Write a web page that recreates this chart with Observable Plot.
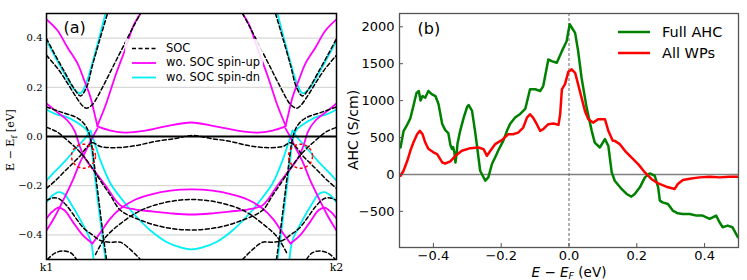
<!DOCTYPE html>
<html><head><meta charset="utf-8">
<script src="https://cdn.jsdelivr.net/npm/d3@7"></script>
<script src="https://cdn.jsdelivr.net/npm/@observablehq/plot@0.6"></script>
<style>
body{margin:0;background:#fff;}
#wrap{position:relative;width:747px;height:280px;overflow:hidden;font-family:"DejaVu Sans",sans-serif;background:#fff;}
#pa,#pb{position:absolute;top:0;}
#pa{left:0px;}
#pb{left:350px;}
.lbl{position:absolute;white-space:nowrap;line-height:1;}
</style></head><body>
<div id="wrap">
  <div id="pa"></div>
  <div id="pb"></div>
  <div class="lbl" id="ylabA" style="left:12px;top:140px;transform:translate(-50%,-50%) rotate(-90deg);font-family:'DejaVu Serif',serif;font-size:11px;">E − E<sub style="font-size:8px">f</sub> [eV]</div>
  <div class="lbl" id="legA" style="left:125px;top:39px;width:138px;height:47px;background:rgba(255,255,255,0.85);font-size:11.5px;">
    <svg width="30" height="47" style="position:absolute;left:6px;top:0">
      <line x1="1" x2="25" y1="9.5" y2="9.5" stroke="black" stroke-width="1.6" stroke-dasharray="4,2.5"/>
      <line x1="1" x2="25" y1="24" y2="24" stroke="#ff00ff" stroke-width="1.8"/>
      <line x1="1" x2="25" y1="38.5" y2="38.5" stroke="#00f0f8" stroke-width="1.8"/>
    </svg>
    <div class="lbl" style="left:41px;top:3.5px">SOC</div>
    <div class="lbl" style="left:41px;top:18px">wo. SOC spin-up</div>
    <div class="lbl" style="left:41px;top:32.5px">wo. SOC spin-dn</div>
  </div>
  <div class="lbl" style="left:353px;top:130px;transform:translate(-50%,-50%) rotate(-90deg);font-size:14px;">AHC (S/cm)</div>
  <div class="lbl" style="left:569px;top:273px;transform:translate(-50%,-50%);font-size:13.5px;"><i>E</i> − <i>E</i><sub style="font-size:9.5px;font-style:italic;vertical-align:-2px">F</sub> (eV)</div>
  <div class="lbl" style="left:617px;top:24px;font-size:14.5px;">
    <svg width="34" height="36" style="position:absolute;left:0;top:0">
      <line x1="1" x2="33" y1="8" y2="8" stroke="green" stroke-width="2.5"/>
      <line x1="1" x2="33" y1="29" y2="29" stroke="red" stroke-width="2.5"/>
    </svg>
    <div class="lbl" style="left:45px;top:1px">Full AHC</div>
    <div class="lbl" style="left:45px;top:22px">All WPs</div>
  </div>
</div>
<script>
// ---------------- Panel (a): band structure, k-path index 0 (k1) .. 290 (k2), energy in eV
const kTicks = [0, 290];
const kLabels = ["k1", "k2"];
const eTicks = [-0.4, -0.2, 0, 0.2, 0.4];
const eGrid = [-0.4, -0.2, 0.2, 0.4];
const weylPoints = [[37, -0.08], [254, -0.08]];

// spin-down bands without SOC (cyan)
const dnBands = [
  [[0,0.39],[9,0.321],[19,0.248],[27,0.195],[34,0.176],[40,0.22],[46,0.301],[52,0.39],[59,0.5]],
  [[231,0.5],[238,0.39],[244,0.301],[250,0.22],[256,0.176],[263,0.195],[271,0.248],[281,0.321],[290,0.39]],
  [[0,0.11],[10,0.09],[21,0.078],[32,0.053],[38,0.035],[41,0.02],[44,-0.02],[47,-0.12],[51,-0.25],[55,-0.38],[59,-0.5]],
  [[231,-0.5],[235,-0.38],[239,-0.25],[243,-0.12],[246,-0.02],[249,0.02],[252,0.035],[258,0.053],[269,0.078],[280,0.09],[290,0.11]],
  [[0,-0.179],[9,-0.14],[19,-0.098],[27,-0.06],[34,-0.028],[40,0.0],[44,0.024]],
  [[246,0.024],[250,0.0],[256,-0.028],[263,-0.06],[271,-0.098],[281,-0.14],[290,-0.179]],
  [[44,0.024],[49,-0.037],[54,-0.098],[64,-0.191],[74,-0.248],[87,-0.313],[104,-0.382],[121,-0.431],[134,-0.451],[145,-0.459],[156,-0.451],[169,-0.431],[186,-0.382],[203,-0.313],[216,-0.248],[226,-0.191],[236,-0.098],[241,-0.037],[246,0.024]],
  [[0,-0.267],[6,-0.24],[12,-0.226],[18,-0.235],[24,-0.27],[34,-0.34],[44,-0.423],[47,-0.5]],
  [[243,-0.5],[246,-0.423],[256,-0.34],[266,-0.27],[272,-0.235],[278,-0.226],[284,-0.24],[290,-0.267]]
];

// spin-up bands without SOC (magenta)
const upBands = [
  [[0,0.476],[11,0.431],[21,0.362],[31,0.297],[37,0.236],[44,0.159],[48,0.093],[51,0.041]],
  [[51,0.041],[64,0.024],[79,0.016],[99,0.024],[119,0.041],[145,0.057],[169,0.041],[191,0.024],[211,0.016],[226,0.024],[239,0.041]],
  [[239,0.041],[242,0.093],[246,0.159],[253,0.236],[259,0.297],[269,0.362],[279,0.431],[290,0.476]],
  [[51,0.045],[59,0.126],[69,0.248],[79,0.358],[87,0.451],[94,0.5]],
  [[196,0.5],[203,0.451],[211,0.358],[221,0.248],[231,0.126],[239,0.045]],
  [[0,-0.382],[9,-0.321],[19,-0.24],[27,-0.171],[33,-0.11],[37,-0.077],[41,-0.045],[46,-0.004],[51,0.033]],
  [[239,0.033],[244,-0.004],[249,-0.045],[253,-0.077],[257,-0.11],[263,-0.171],[271,-0.24],[281,-0.321],[290,-0.382]],
  [[0,0.134],[11,0.098],[21,0.065],[28,0.024],[33,-0.037],[37,-0.077],[42,-0.11],[49,-0.146],[59,-0.199],[74,-0.28],[89,-0.297],[107,-0.305],[126,-0.313],[145,-0.317],[164,-0.313],[183,-0.305],[201,-0.297],[216,-0.28],[231,-0.199],[241,-0.146],[248,-0.11],[253,-0.077],[257,-0.037],[262,0.024],[269,0.065],[279,0.098],[290,0.134]],
  [[46,-0.435],[54,-0.39],[64,-0.333],[74,-0.293],[89,-0.256],[104,-0.236],[124,-0.22],[145,-0.215],[166,-0.22],[186,-0.236],[201,-0.256],[216,-0.293],[226,-0.333],[236,-0.39],[244,-0.435]],
  [[0,-0.333],[6,-0.305],[12,-0.289],[18,-0.3],[26,-0.345],[36,-0.4],[46,-0.435]],
  [[244,-0.435],[254,-0.4],[264,-0.345],[272,-0.3],[278,-0.289],[284,-0.305],[290,-0.333]]
];

// bands with SOC (black dashed)
const socBands = [
  [[0,0.398],[9,0.329],[19,0.256],[27,0.199],[34,0.165],[40,0.2],[46,0.29],[53,0.39],[61,0.5]],
  [[229,0.5],[237,0.39],[244,0.29],[250,0.2],[256,0.165],[263,0.199],[271,0.256],[281,0.329],[290,0.398]],
  [[0,0.33],[12,0.272],[22,0.21],[30,0.158],[36,0.125],[40,0.115],[46,0.13],[56,0.2],[66,0.28],[76,0.36],[86,0.44],[94,0.5]],
  [[196,0.5],[204,0.44],[214,0.36],[224,0.28],[234,0.2],[244,0.13],[250,0.115],[254,0.125],[260,0.158],[268,0.21],[278,0.272],[290,0.33]],
  [[0,0.12],[14,0.1],[31,0.075],[38,0.05],[42,0.02],[45,-0.03],[48,-0.12],[52,-0.25],[56,-0.38],[60,-0.5]],
  [[230,-0.5],[234,-0.38],[238,-0.25],[242,-0.12],[245,-0.03],[248,0.02],[252,0.05],[259,0.075],[276,0.1],[290,0.12]],
  [[0,0.037],[10,0.02],[21,-0.016],[29,-0.045],[37,-0.08],[46,-0.13],[54,-0.18],[64,-0.24],[74,-0.3],[94,-0.34],[119,-0.37],[145,-0.38],[171,-0.37],[196,-0.34],[216,-0.3],[226,-0.24],[236,-0.18],[244,-0.13],[253,-0.08],[261,-0.045],[269,-0.016],[280,0.02],[290,0.037]],
  [[0,-0.211],[9,-0.179],[19,-0.138],[27,-0.106],[34,-0.077],[40,-0.045],[46,-0.025],[54,-0.041],[71,-0.045],[89,-0.037],[109,-0.02],[129,-0.008],[146,0.004],[164,-0.008],[184,-0.02],[202,-0.037],[219,-0.045],[236,-0.041],[244,-0.025],[250,-0.045],[256,-0.077],[263,-0.106],[271,-0.138],[281,-0.179],[290,-0.211]],
  [[49,-0.48],[59,-0.41],[74,-0.354],[94,-0.301],[119,-0.268],[146,-0.256],[172,-0.268],[197,-0.301],[216,-0.354],[231,-0.41],[241,-0.48]],
  [[0,-0.26],[6,-0.25],[12,-0.252],[20,-0.28],[29,-0.33],[37,-0.372],[46,-0.4],[54,-0.423],[64,-0.43],[74,-0.43],[84,-0.46],[94,-0.5]],
  [[196,-0.5],[206,-0.46],[216,-0.43],[226,-0.43],[236,-0.423],[244,-0.4],[253,-0.372],[261,-0.33],[270,-0.28],[278,-0.252],[284,-0.25],[290,-0.26]],
  [[1,-0.5],[8,-0.475],[17,-0.465],[25,-0.475],[30,-0.5]],
  [[260,-0.5],[265,-0.475],[273,-0.465],[282,-0.475],[289,-0.5]]
];

// ---------------- Panel (b): AHC vs E - E_F
const xTicksB = [-0.4, -0.2, 0, 0.2, 0.4];
const yTicksB = [-500, 0, 500, 1000, 1500, 2000];
const fullAHC = [[-0.497,365],[-0.488,588],[-0.48,650],[-0.468,760],[-0.459,927],[-0.45,1100],[-0.443,1130],[-0.438,1000],[-0.432,1062],[-0.424,1040],[-0.415,1130],[-0.404,1085],[-0.394,1062],[-0.385,954],[-0.374,684],[-0.365,600],[-0.356,560],[-0.35,400],[-0.345,345],[-0.342,370],[-0.338,300],[-0.335,160],[-0.331,300],[-0.329,414],[-0.321,590],[-0.31,780],[-0.3,920],[-0.296,940],[-0.286,860],[-0.276,550],[-0.262,50],[-0.247,-85],[-0.238,-40],[-0.227,144],[-0.218,230],[-0.209,320],[-0.194,455],[-0.183,590],[-0.174,684],[-0.159,770],[-0.144,819],[-0.129,887],[-0.115,1153],[-0.1,1153],[-0.085,1130],[-0.076,1197],[-0.061,1558],[-0.051,1535],[-0.036,1512],[-0.021,1670],[-0.007,1805],[0.002,2035],[0.008,1990],[0.018,1917],[0.027,1670],[0.037,1310],[0.052,905],[0.067,590],[0.076,430],[0.091,365],[0.106,478],[0.116,387],[0.126,27],[0.135,-85],[0.155,-197],[0.17,-265],[0.184,-301],[0.194,-265],[0.209,-175],[0.224,-40],[0.238,13],[0.253,-18],[0.263,-175],[0.268,-355],[0.276,-378],[0.292,-400],[0.306,-490],[0.321,-527],[0.335,-535],[0.356,-535],[0.376,-558],[0.394,-558],[0.415,-602],[0.434,-558],[0.444,-648],[0.453,-715],[0.468,-693],[0.482,-715],[0.498,-850]];
const allWPs = [[-0.497,-18],[-0.488,50],[-0.477,185],[-0.468,320],[-0.459,432],[-0.448,545],[-0.44,590],[-0.432,545],[-0.424,432],[-0.415,347],[-0.4,300],[-0.389,275],[-0.374,162],[-0.365,148],[-0.35,176],[-0.335,252],[-0.316,320],[-0.291,356],[-0.267,365],[-0.252,343],[-0.242,252],[-0.232,320],[-0.218,410],[-0.198,464],[-0.179,545],[-0.165,545],[-0.15,567],[-0.135,635],[-0.124,770],[-0.115,815],[-0.106,770],[-0.095,680],[-0.085,590],[-0.076,613],[-0.061,680],[-0.046,689],[-0.031,671],[-0.026,815],[-0.021,1153],[-0.012,1220],[-0.002,1390],[0.008,1423],[0.018,1377],[0.027,1220],[0.037,1040],[0.047,860],[0.057,748],[0.071,702],[0.086,748],[0.106,748],[0.116,590],[0.129,455],[0.135,455],[0.15,410],[0.165,320],[0.184,230],[0.204,140],[0.224,27],[0.243,-62],[0.263,-121],[0.287,-166],[0.312,-197],[0.321,-130],[0.336,-76],[0.361,-54],[0.385,-40],[0.415,-31],[0.444,-40],[0.474,-31],[0.498,-31]];

const rows = (bands, g) => bands.flatMap((b, i) => b.map(([k, E]) => ({k, E, id: g + i})));
const dnRows = rows(dnBands, "dn"), upRows = rows(upBands, "up"), socRows = rows(socBands, "soc");
const fmt1 = d3.format(".1f");
const blank = () => "";

const plotA = Plot.plot({
  width: 350, height: 280,
  marginLeft: 46, marginRight: 14, marginTop: 13, marginBottom: 21,
  x: {domain: [0, 290]},
  y: {domain: [-0.5, 0.5]},
  style: {fontFamily: "'DejaVu Serif', serif", fontSize: "10px", background: "transparent"},
  marks: [
    Plot.ruleY(eGrid, {stroke: "#d8d8d8", strokeWidth: 1.2}),
    Plot.line(dnRows, {x: "k", y: "E", z: "id", stroke: "#00f0f8", strokeWidth: 1.8, curve: "catmull-rom", clip: true}),
    Plot.line(upRows, {x: "k", y: "E", z: "id", stroke: "#ff00ff", strokeWidth: 1.8, curve: "catmull-rom", clip: true}),
    Plot.line(socRows, {x: "k", y: "E", z: "id", stroke: "black", strokeWidth: 1.5, strokeDasharray: "4,2.5", curve: "catmull-rom", clip: true}),
    Plot.ruleY([0], {stroke: "black", strokeWidth: 2}),
    Plot.dot(weylPoints, {x: d => d[0], y: d => d[1], r: 12, stroke: "red", fill: "none", strokeWidth: 1.5, strokeDasharray: "3,2.5"}),
    Plot.axisY(eTicks, {tickSize: 0, tickPadding: 4, tickFormat: fmt1, label: null, fontSize: 10}),
    Plot.axisX(kTicks, {tickSize: 0, tickPadding: 4, tickFormat: d => kLabels[kTicks.indexOf(d)], label: null, fontSize: 11}),
    Plot.frame({stroke: "black", strokeWidth: 1.5}),
    Plot.text(["(a)"], {frameAnchor: "top-left", dx: 17, dy: 8, fontSize: 16, fontFamily: "'DejaVu Sans', sans-serif"})
  ]
});
document.getElementById("pa").appendChild(plotA);

const plotB = Plot.plot({
  width: 397, height: 280,
  marginLeft: 49, marginRight: 9, marginTop: 13, marginBottom: 33,
  x: {domain: [-0.5, 0.5]},
  y: {domain: [-990, 2180]},
  style: {fontFamily: "'DejaVu Sans', sans-serif", fontSize: "13px", background: "transparent"},
  marks: [
    Plot.ruleY([0], {stroke: "#808080", strokeWidth: 1.5}),
    Plot.ruleX([0], {stroke: "#666", strokeWidth: 1, strokeDasharray: "3,2"}),
    Plot.line(fullAHC, {x: d => d[0], y: d => d[1], stroke: "green", strokeWidth: 2.5}),
    Plot.line(allWPs, {x: d => d[0], y: d => d[1], stroke: "red", strokeWidth: 2.5}),
    Plot.axisX(xTicksB, {tickSize: 0, tickPadding: 3, tickFormat: fmt1, label: null}),
    Plot.axisX(xTicksB, {tickSize: 4, dy: -4, tickFormat: blank, label: null, stroke: "#555"}),
    Plot.axisY(yTicksB, {tickSize: 0, tickPadding: 5, tickFormat: d3.format("d"), label: null}),
    Plot.axisY(yTicksB, {tickSize: 4, dx: 4, tickFormat: blank, label: null, stroke: "#555"}),
    Plot.frame({stroke: "#555", strokeWidth: 1.3}),
    Plot.text(["(b)"], {frameAnchor: "top-left", dx: 18, dy: 9, fontSize: 16})
  ]
});
document.getElementById("pb").appendChild(plotB);
</script>
</body></html>
